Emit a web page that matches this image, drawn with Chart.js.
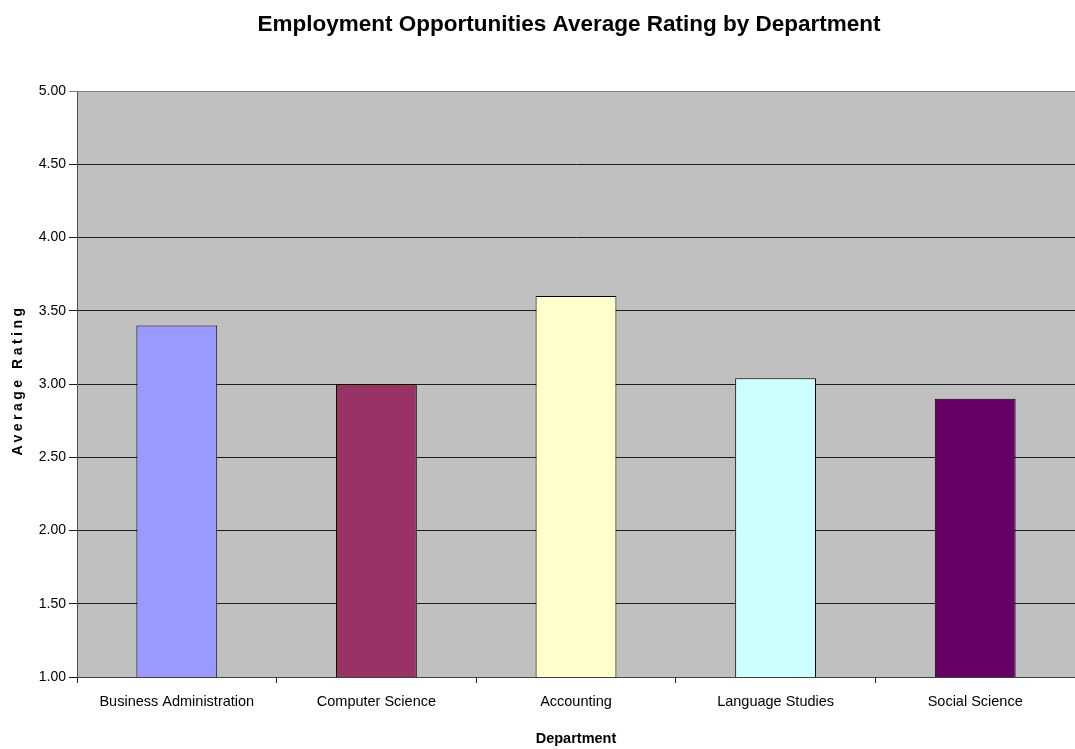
<!DOCTYPE html>
<html>
<head>
<meta charset="utf-8">
<title>Employment Opportunities Average Rating by Department</title>
<script src="https://cdn.jsdelivr.net/npm/chart.js@4/dist/chart.umd.min.js"></script>
<style>
    html, body { margin: 0; padding: 0; background: #fff; }
    #wrap { width: 1075px; height: 749px; }
</style>
</head>
<body>
<div id="wrap"><canvas id="ratingChart" width="1075" height="749"></canvas></div>
<script>
// ── data ──────────────────────────────────────────────
var departments = ['Business Administration', 'Computer Science', 'Accounting', 'Language Studies', 'Social Science'];
var avgRatings  = [3.40, 3.00, 3.60, 3.04, 2.90];
var barColors   = ['#9999FF', '#993366', '#FFFFCC', '#CCFFFF', '#660066'];
var yTicks      = [1.00, 1.50, 2.00, 2.50, 3.00, 3.50, 4.00, 4.50, 5.00];

var chartTitle = 'Employment Opportunities Average Rating by Department';
var FONT = 'Arial, "Liberation Sans", sans-serif';

// grey plot background behind the grid
var plotBackground = {
    id: 'plotBackground',
    beforeDraw: function (chart) {
        var a = chart.chartArea, c = chart.ctx;
        c.save();
        c.fillStyle = '#C0C0C0';
        c.fillRect(a.left, a.top, a.right - a.left, a.bottom - a.top);
        c.restore();
    }
};

// main title (centred over the plot) and the letter-spaced y axis title
var headings = {
    id: 'headings',
    afterDraw: function (chart) {
        var a = chart.chartArea, c = chart.ctx;
        c.save();
        c.fillStyle = '#000';
        c.font = 'bold 22.5px ' + FONT;
        c.textAlign = 'center';
        c.textBaseline = 'alphabetic';
        c.fillText(chartTitle, (a.left + a.right) / 2 - 7, 31);

        c.translate(18.5, (a.top + a.bottom) / 2 - 4);
        c.rotate(-Math.PI / 2);
        c.font = 'bold 14px ' + FONT;
        c.letterSpacing = '3.5px';
        c.textBaseline = 'middle';
        c.fillText('Average Rating', 0, 0);
        c.restore();
    }
};

var ctx = document.getElementById('ratingChart').getContext('2d');

new Chart(ctx, {
    type: 'bar',
    data: {
        labels: departments,
        datasets: [{
            label: 'Average Rating',
            data: avgRatings,
            backgroundColor: barColors,
            borderColor: '#000',
            borderWidth: 1,
            barPercentage: 0.405,
            categoryPercentage: 1.0
        }]
    },
    options: {
        responsive: false,
        animation: false,
        layout: { padding: { left: 0, right: 0, top: 91, bottom: 0 } },
        plugins: {
            legend: { display: false },
            tooltip: { enabled: false },
            title: { display: false }
        },
        scales: {
            x: {
                grid: {
                    offset: true,
                    drawOnChartArea: false,
                    drawTicks: true,
                    tickLength: 6,
                    color: '#222'
                },
                border: { display: true, color: '#404040', width: 1 },
                ticks: {
                    color: '#000',
                    padding: 10,
                    maxRotation: 0,
                    autoSkip: false,
                    font: { family: FONT, size: 14.5 }
                },
                title: {
                    display: true,
                    text: 'Department',
                    color: '#000',
                    font: { family: FONT, size: 14.5, weight: 'bold' },
                    padding: { top: 0, bottom: 1 }
                },
                afterFit: function (s) { s.height = 72; }
            },
            y: {
                min: yTicks[0],
                max: yTicks[yTicks.length - 1],
                afterBuildTicks: function (s) {
                    s.ticks = yTicks.map(function (v) { return { value: v }; });
                },
                grid: {
                    drawTicks: true,
                    tickLength: 8,
                    color: function (c) { return c.tick && c.tick.value === 5 ? '#808080' : '#1a1a1a'; }
                },
                border: { display: true, color: '#505050', width: 1 },
                ticks: {
                    color: '#000',
                    padding: 3,
                    font: { family: FONT, size: 14 },
                    callback: function (v) { return Number(v).toFixed(2); }
                },
                afterFit: function (s) { s.width = 77; }
            }
        }
    },
    plugins: [plotBackground, headings]
});
</script>
</body>
</html>
